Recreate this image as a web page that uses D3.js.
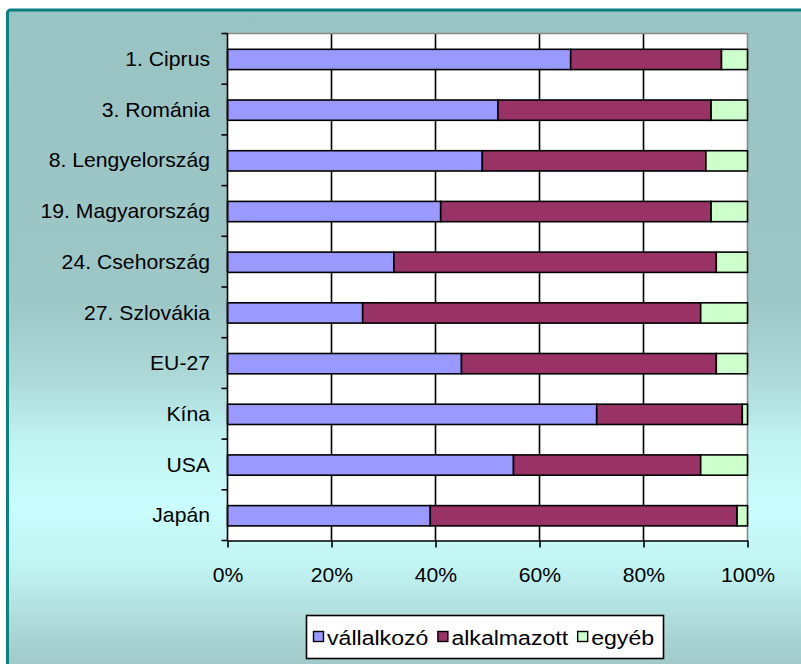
<!DOCTYPE html>
<html>
<head>
<meta charset="utf-8">
<script src="https://cdn.jsdelivr.net/npm/d3@7"></script>
<style>
  html, body { margin: 0; padding: 0; background: #ffffff; }
  svg { display: block; }
  text { font-family: "Liberation Sans", Arial, sans-serif; fill: #000; }
</style>
</head>
<body>
<svg id="chart" width="801" height="664"></svg>
<script>
// Employment structure by country: share of entrepreneurs, employees and others
const categories = ["1. Ciprus", "3. Románia", "8. Lengyelország", "19. Magyarország",
                    "24. Csehország", "27. Szlovákia", "EU-27", "Kína", "USA", "Japán"];
const seriesNames = ["vállalkozó", "alkalmazott", "egyéb"];
const vallalkozo  = [66, 52, 49, 41, 32, 26, 45, 71, 55, 39];
const alkalmazott = [29, 41, 43, 52, 62, 65, 49, 28, 36, 59];
const egyeb       = [5, 7, 8, 7, 6, 9, 6, 1, 9, 2];
const xTickValues = [0, 20, 40, 60, 80, 100];
const colors = ["#9999ff", "#993366", "#ccffcc"];

const STRETCH = 1.06; // axis labels are drawn slightly wide
const FONT = 20;
const LEGEND_STRETCH = 1.1;
const LEGEND_FONT = 21;

const svg = d3.select("#chart");

// chart area background gradient
const defs = svg.append("defs");
const grad = defs.append("linearGradient")
  .attr("id", "bg").attr("gradientUnits", "userSpaceOnUse")
  .attr("x1", 0).attr("y1", 10).attr("x2", 0).attr("y2", 664);
[[0, "#9ac3c3"], [0.44, "#9dc6c6"], [0.57, "#aedada"], [0.66, "#c2f3f3"],
 [0.76, "#c9fcfc"], [0.85, "#c2f4f4"], [0.93, "#b0dcdc"], [1, "#a1c9c9"]]
  .forEach(([o, c]) => grad.append("stop").attr("offset", o).attr("stop-color", c));

svg.append("rect")
  .attr("x", 7.5).attr("y", 10).attr("width", 820).attr("height", 700)
  .attr("rx", 3)
  .attr("fill", "url(#bg)")
  .attr("stroke", "#0a807f").attr("stroke-width", 3);

// plot area
const plot = { left: 227.5, right: 747.5, top: 33.5, bottom: 540.5 };

const x = d3.scaleLinear().domain([0, 1]).range([plot.left, plot.right]);
const y = d3.scaleBand().domain(categories).range([plot.top, plot.bottom]).padding(0);

svg.append("rect")
  .attr("x", plot.left).attr("y", plot.top)
  .attr("width", plot.right - plot.left).attr("height", plot.bottom - plot.top)
  .attr("fill", "#ffffff");

// vertical gridlines
svg.append("g").selectAll("line")
  .data(xTickValues.filter(v => v > 0 && v < 100))
  .join("line")
  .attr("x1", d => x(d / 100)).attr("x2", d => x(d / 100))
  .attr("y1", plot.top).attr("y2", plot.bottom)
  .attr("stroke", "#000").attr("stroke-width", 1.6);

// plot border (top and right)
svg.append("path")
  .attr("d", `M${plot.left},${plot.top}H${plot.right}V${plot.bottom}`)
  .attr("fill", "none").attr("stroke", "#8a8a8a").attr("stroke-width", 1.6);

// stacked bars, normalised to 100%
const table = categories.map((c, i) => ({
  cat: c,
  "vállalkozó": vallalkozo[i],
  "alkalmazott": alkalmazott[i],
  "egyéb": egyeb[i]
}));
const stack = d3.stack().keys(seriesNames).offset(d3.stackOffsetExpand);
const layers = stack(table);

const barH = y.bandwidth() * 0.4;
const barOffset = (y.bandwidth() - barH) / 2 + 0.6;

svg.append("g").selectAll("g")
  .data(layers)
  .join("g")
  .attr("fill", (d, i) => colors[i])
  .selectAll("rect")
  .data(d => d)
  .join("rect")
  .attr("x", d => x(d[0]))
  .attr("width", d => x(d[1]) - x(d[0]))
  .attr("y", d => y(d.data.cat) + barOffset)
  .attr("height", barH)
  .attr("stroke", "#000").attr("stroke-width", 1.6);

// category axis: labels at band centres, ticks between categories
const yAxis = svg.append("g")
  .attr("transform", `translate(${plot.left},0)`)
  .call(d3.axisLeft(y).tickSize(0).tickPadding(0));
yAxis.select(".domain").remove();
yAxis.selectAll("text")
  .attr("font-size", FONT)
  .attr("font-family", '"Liberation Sans", Arial, sans-serif')
  .attr("x", -17.5 / STRETCH)
  .attr("dy", "0.36em")
  .attr("transform", `scale(${STRETCH},1)`);

const boundaries = categories.map(c => y(c)).concat([plot.bottom]);
svg.append("g").selectAll("line")
  .data(boundaries)
  .join("line")
  .attr("x1", plot.left - 6).attr("x2", plot.left)
  .attr("y1", d => d).attr("y2", d => d)
  .attr("stroke", "#000").attr("stroke-width", 1.6);
svg.append("line")
  .attr("x1", plot.left).attr("x2", plot.left)
  .attr("y1", plot.top).attr("y2", plot.bottom)
  .attr("stroke", "#000").attr("stroke-width", 1.6);

// value axis
const xAxis = svg.append("g")
  .attr("transform", `translate(0,${plot.bottom})`)
  .call(d3.axisBottom(x)
    .tickValues(xTickValues.map(v => v / 100))
    .tickFormat(d3.format(".0%"))
    .tickSize(7).tickPadding(20).tickSizeOuter(0));
xAxis.select(".domain").attr("stroke", "#000").attr("stroke-width", 1.6);
xAxis.selectAll(".tick line").attr("stroke", "#000").attr("stroke-width", 1.6);
xAxis.selectAll("text")
  .attr("font-size", FONT)
  .attr("font-family", '"Liberation Sans", Arial, sans-serif')
  .attr("transform", `scale(${STRETCH},1)`);

// legend
const legend = svg.append("g");
legend.append("rect")
  .attr("x", 306.5).attr("y", 615.5).attr("width", 357).attr("height", 43)
  .attr("fill", "#fff").attr("stroke", "#000").attr("stroke-width", 1.6);

let lx = 313;
seriesNames.forEach((name, i) => {
  legend.append("rect")
    .attr("x", lx + 0.5).attr("y", 631.5).attr("width", 10).attr("height", 10)
    .attr("fill", colors[i]).attr("stroke", "#000").attr("stroke-width", 1.4);
  const t = legend.append("text")
    .attr("x", (lx + 14) / LEGEND_STRETCH).attr("y", 645)
    .attr("font-size", LEGEND_FONT)
    .attr("transform", `scale(${LEGEND_STRETCH},1)`)
    .text(name);
  lx += 14 + t.node().getComputedTextLength() * LEGEND_STRETCH + 9;
});
</script>
</body>
</html>
